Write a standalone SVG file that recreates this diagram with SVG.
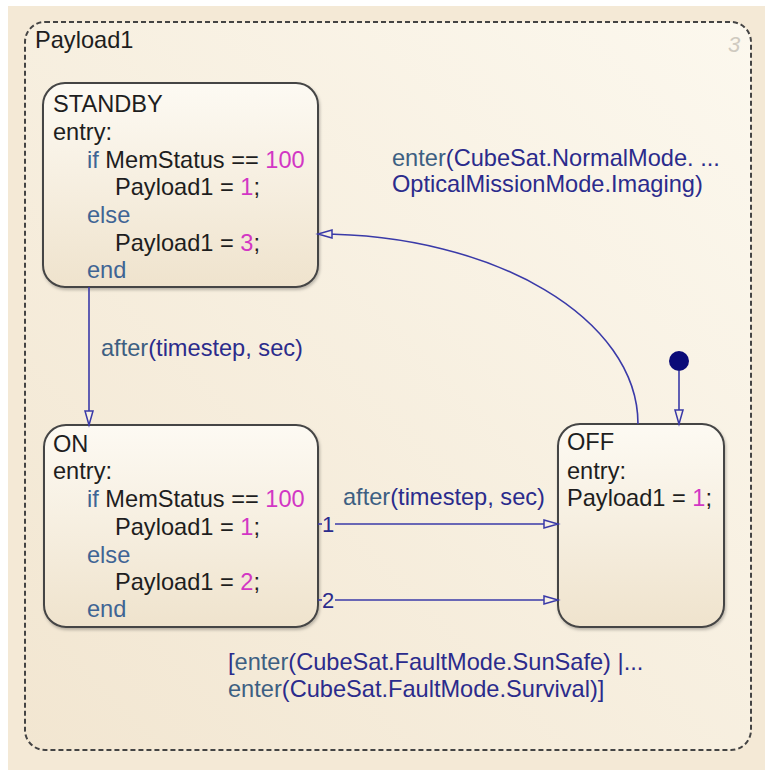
<svg xmlns="http://www.w3.org/2000/svg" width="765" height="770" viewBox="0 0 765 770">
  <defs>
    <linearGradient id="bgGrad" x1="1" y1="0" x2="0" y2="1">
      <stop offset="0" stop-color="#fcf8ee"/>
      <stop offset="1" stop-color="#f2e6d1"/>
    </linearGradient>
    <linearGradient id="stateGrad" x1="0" y1="0" x2="0" y2="1">
      <stop offset="0" stop-color="#fdfaf3"/>
      <stop offset="1" stop-color="#efe3cd"/>
    </linearGradient>
    <filter id="shadow" x="-10%" y="-10%" width="120%" height="120%">
      <feDropShadow dx="1" dy="2" stdDeviation="1.5" flood-color="#000" flood-opacity="0.25"/>
    </filter>
    <marker id="arrow" markerUnits="userSpaceOnUse" markerWidth="18" markerHeight="12" refX="15" refY="5" orient="auto">
      <path d="M1,1 L15,5 L1,9 Z" fill="#f8f1e3" stroke="#3a3aa8" stroke-width="1.5"/>
    </marker>
    <style>
      text { font-family: "Liberation Sans", Arial, Helvetica, sans-serif; font-size: 23.6px; }
      .st { fill: url(#stateGrad); stroke: #454545; stroke-width: 2; filter: url(#shadow); }
      .nm { fill: #1e1e1e; }
      .kw { fill: #3f6494; }
      .num { fill: #d236c4; }
      .lbl { fill: #2b2b8c; }
      .lkw { fill: #3d5f82; }
      .conn { fill: none; stroke: #3a3aa8; stroke-width: 1.6; }
      .num2 { fill: #2b2b8c; font-size: 22px; }
    </style>
  </defs>

  <rect x="0" y="0" width="765" height="770" fill="#ffffff"/>
  <rect x="8" y="6" width="757" height="764" fill="#f4e9d6"/>

  <g id="Payload1">
    <rect x="25" y="22" width="726" height="728" rx="20" fill="url(#bgGrad)" stroke="#444444" stroke-width="2" stroke-dasharray="5,3"/>
    <text x="35" y="48" class="nm">Payload1</text>
    <text x="728" y="52" fill="#cfcac0" font-style="italic" style="font-size:22px">3</text>
  </g>

  <g id="STANDBY">
    <rect class="st" x="43" y="83" width="275" height="204" rx="22"/>
    <text x="53" y="112" class="nm">STANDBY</text>
    <text x="53" y="140" class="nm">entry:</text>
    <text x="87" y="168"><tspan class="kw">if</tspan><tspan class="nm"> MemStatus == </tspan><tspan class="num">100</tspan></text>
    <text x="115" y="195"><tspan class="nm">Payload1 = </tspan><tspan class="num">1</tspan><tspan class="nm">;</tspan></text>
    <text x="87" y="223" class="kw">else</text>
    <text x="115" y="251"><tspan class="nm">Payload1 = </tspan><tspan class="num">3</tspan><tspan class="nm">;</tspan></text>
    <text x="87" y="278" class="kw">end</text>
  </g>

  <g id="ON">
    <rect class="st" x="44" y="425" width="274" height="202" rx="22"/>
    <text x="53" y="452" class="nm">ON</text>
    <text x="53" y="479" class="nm">entry:</text>
    <text x="87" y="507"><tspan class="kw">if</tspan><tspan class="nm"> MemStatus == </tspan><tspan class="num">100</tspan></text>
    <text x="115" y="535"><tspan class="nm">Payload1 = </tspan><tspan class="num">1</tspan><tspan class="nm">;</tspan></text>
    <text x="87" y="563" class="kw">else</text>
    <text x="115" y="590"><tspan class="nm">Payload1 = </tspan><tspan class="num">2</tspan><tspan class="nm">;</tspan></text>
    <text x="87" y="617" class="kw">end</text>
  </g>

  <g id="OFF">
    <rect class="st" x="558" y="424" width="166" height="203" rx="22"/>
    <text x="567" y="450" class="nm">OFF</text>
    <text x="567" y="479" class="nm">entry:</text>
    <text x="567" y="506"><tspan class="nm">Payload1 = </tspan><tspan class="num">1</tspan><tspan class="nm">;</tspan></text>
  </g>

  <g id="connectors">
    <line class="conn" x1="89" y1="287" x2="89" y2="425" marker-end="url(#arrow)"/>
    <text x="101" y="356" class="lbl"><tspan class="lkw">after</tspan>(timestep, sec)</text>

    <circle cx="679" cy="361" r="10" fill="#0b0b78"/>
    <line class="conn" x1="679" y1="371" x2="679" y2="424" marker-end="url(#arrow)"/>

    <line class="conn" x1="318" y1="524" x2="322" y2="524"/>
    <text x="322" y="532" class="num2">1</text>
    <line class="conn" x1="335" y1="524" x2="558" y2="524" marker-end="url(#arrow)"/>
    <text x="343" y="505" class="lbl"><tspan class="lkw">after</tspan>(timestep, sec)</text>

    <line class="conn" x1="318" y1="600" x2="322" y2="600"/>
    <text x="322" y="608" class="num2">2</text>
    <line class="conn" x1="335" y1="600" x2="558" y2="600" marker-end="url(#arrow)"/>
    <text x="228" y="670" class="lbl">[<tspan class="lkw">enter</tspan>(CubeSat.FaultMode.SunSafe) |...</text>
    <text x="228" y="697" class="lbl"><tspan class="lkw">enter</tspan>(CubeSat.FaultMode.Survival)]</text>

    <path class="conn" d="M638,424 C638,319 495,234 318,234" marker-end="url(#arrow)"/>
    <text x="392" y="166" class="lbl"><tspan class="lkw">enter</tspan>(CubeSat.NormalMode. ...</text>
    <text x="392" y="192" class="lbl">OpticalMissionMode.Imaging)</text>
  </g>
</svg>
